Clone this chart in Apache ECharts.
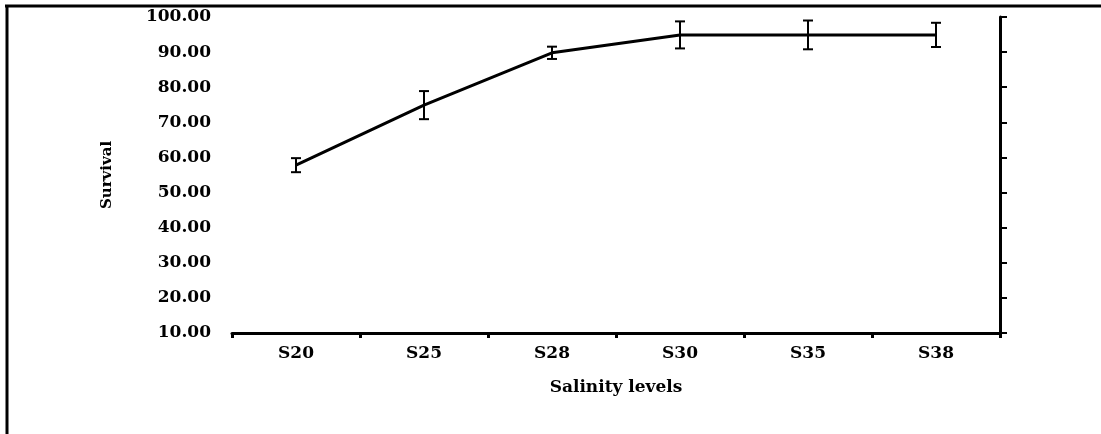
<!DOCTYPE html>
<html>
<head>
<meta charset="utf-8">
<script src="https://cdn.jsdelivr.net/npm/echarts@6/dist/echarts.min.js"></script>
<style>
html,body{margin:0;padding:0;background:#fff;}
#chart{width:1101px;height:434px;}
</style>
</head>
<body>
<div id="chart"></div>
<script>
var categories = ['S20', 'S25', 'S28', 'S30', 'S35', 'S38'];
var survival = [57.8, 74.9, 89.8, 94.9, 94.9, 94.9];
var errors = [2.0, 4.0, 1.75, 3.85, 4.1, 3.45];
var yTicks = [10, 20, 30, 40, 50, 60, 70, 80, 90, 100];

var FONT = 'DejaVu Serif';
var errData = categories.map(function (c, i) {
  return [i, survival[i] - errors[i], survival[i] + errors[i]];
});

var chart = echarts.init(document.getElementById('chart'));
chart.setOption({
  backgroundColor: '#fff',
  animation: false,
  grid: { left: 232, right: 101, top: 17, bottom: 101 },
  graphic: [
    { type: 'line', shape: { x1: 5, y1: 6, x2: 1101, y2: 6 }, style: { stroke: '#000', lineWidth: 3 } },
    { type: 'line', shape: { x1: 7, y1: 5, x2: 7, y2: 434 }, style: { stroke: '#000', lineWidth: 3 } }
  ],
  xAxis: {
    type: 'category',
    data: categories,
    boundaryGap: true,
    name: 'Salinity levels',
    nameLocation: 'middle',
    nameGap: 46,
    nameTextStyle: { fontFamily: FONT, fontWeight: 'bold', fontSize: 17, color: '#000' },
    axisLine: { lineStyle: { color: '#000', width: 3 } },
    axisTick: { show: true, alignWithLabel: false, length: 5, lineStyle: { color: '#000', width: 3 } },
    axisLabel: { margin: 12, fontFamily: FONT, fontWeight: 'bold', fontSize: 17, color: '#000' }
  },
  yAxis: [
    {
      type: 'value',
      min: yTicks[0],
      max: yTicks[yTicks.length - 1],
      interval: 10,
      position: 'left',
      name: 'Survival',
      nameLocation: 'middle',
      nameRotate: 90,
      nameGap: 117,
      nameTextStyle: { fontFamily: FONT, fontWeight: 'bold', fontSize: 15, color: '#000' },
      axisLine: { show: false },
      axisTick: { show: false },
      splitLine: { show: false },
      axisLabel: {
        margin: 21,
        fontFamily: FONT, fontWeight: 'bold', fontSize: 17, color: '#000',
        formatter: function (v) { return v.toFixed(2); }
      }
    },
    {
      type: 'value',
      min: yTicks[0],
      max: yTicks[yTicks.length - 1],
      interval: 10,
      position: 'right',
      axisLine: { show: true, lineStyle: { color: '#000', width: 3 } },
      axisTick: { show: true, inside: false, length: 7, lineStyle: { color: '#000', width: 2 } },
      axisLabel: { show: false },
      splitLine: { show: false }
    }
  ],
  series: [
    {
      type: 'line',
      data: survival,
      symbol: 'none',
      lineStyle: { color: '#000', width: 3 },
      z: 3
    },
    {
      type: 'custom',
      data: errData,
      z: 4,
      renderItem: function (params, api) {
        var x = api.value(0);
        var lo = api.coord([x, api.value(1)]);
        var hi = api.coord([x, api.value(2)]);
        var hw = 5;
        var st = { stroke: '#000', lineWidth: 2 };
        return {
          type: 'group',
          children: [
            { type: 'line', shape: { x1: hi[0], y1: hi[1], x2: lo[0], y2: lo[1] }, style: st },
            { type: 'line', shape: { x1: hi[0] - hw, y1: hi[1], x2: hi[0] + hw, y2: hi[1] }, style: st },
            { type: 'line', shape: { x1: lo[0] - hw, y1: lo[1], x2: lo[0] + hw, y2: lo[1] }, style: st }
          ]
        };
      }
    }
  ]
});
</script>
</body>
</html>
